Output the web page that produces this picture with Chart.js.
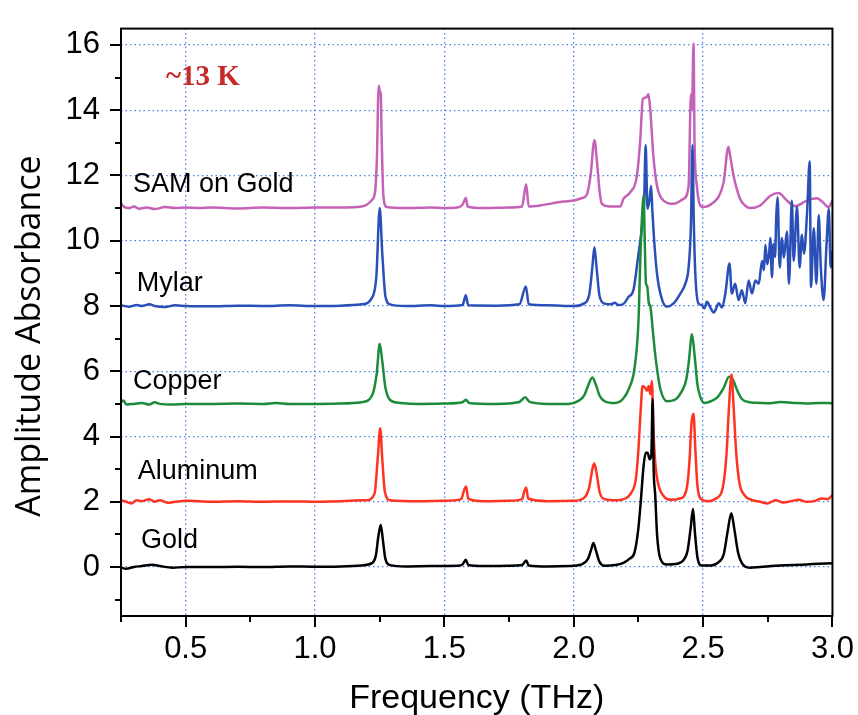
<!DOCTYPE html>
<html>
<head>
<meta charset="utf-8">
<script src="https://cdn.jsdelivr.net/npm/chart.js@4.4.1/dist/chart.umd.min.js"></script>
<style>
  html, body { margin: 0; padding: 0; background: #fff; }
</style>
</head>
<body>
<canvas id="myChart" width="858" height="715"></canvas>
<script>
// spectra, [frequency THz, amplitude absorbance] (already offset as in the figure)
const gold = [[0.25,-0.02],[0.27,-0.05],[0.30,0.0],[0.33,0.03],[0.37,0.07],[0.40,0.03],[0.45,-0.02],[0.50,0.0],[0.60,0.0],[0.70,0.01],[0.80,0.0],[0.90,0.02],[1.00,0.01],[1.10,0.02],[1.18,0.05],[1.22,0.12],[1.235,0.35],[1.245,0.95],[1.254,1.29],[1.262,0.85],[1.272,0.25],[1.29,0.06],[1.35,0.02],[1.45,0.03],[1.55,0.04],[1.57,0.08],[1.583,0.22],[1.592,0.06],[1.65,0.03],[1.75,0.04],[1.80,0.06],[1.816,0.20],[1.826,0.05],[1.90,0.02],[1.98,0.03],[2.03,0.08],[2.055,0.25],[2.068,0.55],[2.076,0.74],[2.086,0.5],[2.10,0.15],[2.12,0.04],[2.16,0.06],[2.19,0.12],[2.215,0.25],[2.235,0.45],[2.25,1.2],[2.26,2.1],[2.27,3.1],[2.278,3.5],[2.285,3.5],[2.294,3.3],[2.30,3.45],[2.305,5.15],[2.309,3.0],[2.315,2.2],[2.322,1.0],[2.335,0.25],[2.36,0.08],[2.40,0.1],[2.425,0.22],[2.44,0.5],[2.452,1.2],[2.461,1.78],[2.468,1.1],[2.478,0.3],[2.495,0.05],[2.53,0.05],[2.56,0.15],[2.58,0.4],[2.595,1.1],[2.609,1.65],[2.62,1.2],[2.635,0.45],[2.65,0.12],[2.68,-0.02],[2.72,0.0],[2.78,0.04],[2.85,0.06],[2.90,0.08],[2.95,0.1],[3.0,0.12]];

const aluminum = [[0.25,2.05],[0.27,2.0],[0.29,1.95],[0.31,2.05],[0.33,2.02],[0.36,2.08],[0.38,2.0],[0.40,2.05],[0.43,1.97],[0.46,2.0],[0.5,2.03],[0.6,2.0],[0.7,2.02],[0.8,2.0],[0.9,2.01],[1.0,2.0],[1.1,2.02],[1.2,2.05],[1.23,2.25],[1.243,3.4],[1.252,4.25],[1.26,3.3],[1.27,2.3],[1.29,2.05],[1.4,2.02],[1.5,2.03],[1.565,2.08],[1.576,2.35],[1.584,2.47],[1.592,2.1],[1.65,2.02],[1.75,2.03],[1.80,2.08],[1.81,2.35],[1.816,2.44],[1.824,2.1],[1.9,2.02],[2.0,2.03],[2.04,2.12],[2.06,2.45],[2.072,3.0],[2.079,3.17],[2.088,2.9],[2.10,2.3],[2.12,2.08],[2.17,2.05],[2.2,2.1],[2.22,2.25],[2.24,2.7],[2.25,3.6],[2.258,4.7],[2.266,5.55],[2.275,5.5],[2.283,5.4],[2.29,5.55],[2.296,5.3],[2.302,5.7],[2.308,4.2],[2.315,3.2],[2.325,2.6],[2.345,2.2],[2.38,2.06],[2.41,2.1],[2.435,2.35],[2.447,3.2],[2.455,4.4],[2.463,4.7],[2.47,3.6],[2.478,2.5],[2.49,2.1],[2.52,2.02],[2.55,2.1],[2.575,2.4],[2.59,3.4],[2.6,4.9],[2.61,5.9],[2.618,4.9],[2.628,3.5],[2.64,2.6],[2.66,2.2],[2.69,2.05],[2.72,2.0],[2.75,1.95],[2.78,2.05],[2.81,1.98],[2.84,2.02],[2.87,2.06],[2.9,2.0],[2.93,2.02],[2.96,2.1],[2.98,2.08],[3.0,2.2]];

const copper = [[0.25,5.05],[0.26,5.1],[0.27,4.98],[0.30,5.0],[0.33,5.03],[0.36,4.98],[0.38,5.05],[0.40,5.0],[0.45,4.98],[0.5,5.0],[0.6,5.0],[0.7,5.01],[0.8,5.0],[0.85,5.03],[0.9,5.0],[1.0,5.0],[1.1,5.01],[1.18,5.05],[1.22,5.25],[1.238,5.9],[1.25,6.84],[1.26,6.3],[1.272,5.5],[1.29,5.12],[1.33,5.03],[1.4,5.0],[1.5,5.01],[1.57,5.05],[1.583,5.13],[1.595,5.03],[1.7,5.0],[1.79,5.06],[1.812,5.2],[1.83,5.06],[1.9,5.0],[1.98,5.0],[2.02,5.1],[2.04,5.25],[2.055,5.55],[2.072,5.81],[2.085,5.6],[2.1,5.25],[2.12,5.08],[2.16,5.03],[2.19,5.15],[2.215,5.5],[2.235,6.1],[2.25,7.5],[2.258,9.6],[2.265,10.9],[2.27,11.4],[2.275,9.8],[2.279,8.7],[2.284,8.6],[2.29,8.1],[2.296,8.0],[2.305,7.3],[2.315,6.5],[2.325,5.9],[2.335,5.45],[2.36,5.08],[2.39,5.12],[2.415,5.35],[2.435,5.75],[2.445,6.3],[2.457,7.13],[2.467,6.5],[2.478,5.6],[2.49,5.2],[2.505,5.03],[2.53,5.08],[2.555,5.2],[2.58,5.5],[2.6,5.83],[2.615,5.75],[2.63,5.45],[2.65,5.15],[2.68,5.05],[2.72,5.03],[2.76,5.02],[2.8,5.06],[2.85,5.03],[2.9,5.01],[2.95,5.03],[3.0,5.02]];

const mylar = [[0.25,8.02],[0.28,7.98],[0.31,8.03],[0.33,8.0],[0.36,8.05],[0.38,8.0],[0.42,7.97],[0.46,8.02],[0.5,8.0],[0.6,7.99],[0.7,8.01],[0.8,8.0],[0.9,8.02],[1.0,8.0],[1.1,8.01],[1.18,8.05],[1.22,8.25],[1.237,8.9],[1.25,11.0],[1.26,9.6],[1.272,8.3],[1.29,8.05],[1.35,8.0],[1.45,8.02],[1.5,8.0],[1.57,8.03],[1.583,8.33],[1.592,8.02],[1.7,8.01],[1.79,8.05],[1.815,8.6],[1.826,8.05],[1.9,8.02],[2.0,8.0],[2.04,8.08],[2.06,8.35],[2.072,9.2],[2.08,9.8],[2.088,9.2],[2.1,8.3],[2.12,8.07],[2.14,8.05],[2.16,8.1],[2.17,8.03],[2.19,8.05],[2.212,8.28],[2.231,8.5],[2.25,9.58],[2.263,10.38],[2.272,11.2],[2.278,12.93],[2.285,10.98],[2.292,11.2],[2.299,11.68],[2.304,10.9],[2.31,10.1],[2.322,8.98],[2.341,8.2],[2.36,7.98],[2.386,8.08],[2.412,8.38],[2.431,8.68],[2.444,9.18],[2.453,10.48],[2.459,12.93],[2.464,10.6],[2.47,8.98],[2.482,8.08],[2.495,8.03],[2.505,7.93],[2.515,8.13],[2.528,7.95],[2.541,7.8],[2.561,8.08],[2.573,7.95],[2.586,8.38],[2.602,9.3],[2.611,8.38],[2.624,8.68],[2.637,8.18],[2.65,8.48],[2.663,8.08],[2.676,8.78],[2.689,8.38],[2.702,8.78],[2.715,8.68],[2.728,9.38],[2.735,9.1],[2.741,9.88],[2.748,9.28],[2.755,9.6],[2.76,10.08],[2.766,8.88],[2.772,9.9],[2.778,9.5],[2.783,10.78],[2.788,11.33],[2.796,9.18],[2.805,10.08],[2.812,9.48],[2.824,10.28],[2.832,8.68],[2.843,11.23],[2.85,9.38],[2.863,11.03],[2.873,9.18],[2.882,10.18],[2.89,9.6],[2.902,10.88],[2.912,12.43],[2.917,8.58],[2.928,10.38],[2.938,8.68],[2.947,10.78],[2.955,9.18],[2.966,8.18],[2.977,9.88],[2.986,10.98],[2.993,9.18],[3.0,9.68]];

const samOnGold = [[0.25,11.15],[0.26,11.05],[0.28,11.0],[0.30,11.05],[0.32,10.98],[0.35,11.02],[0.38,10.97],[0.42,11.03],[0.46,11.0],[0.5,11.02],[0.55,11.0],[0.6,11.02],[0.7,10.99],[0.8,11.02],[0.9,11.0],[1.0,11.02],[1.1,11.02],[1.18,11.05],[1.22,11.25],[1.232,11.5],[1.239,12.5],[1.246,14.75],[1.25,14.6],[1.254,14.5],[1.258,12.98],[1.264,11.4],[1.277,11.03],[1.35,11.0],[1.45,11.02],[1.5,11.0],[1.55,11.02],[1.57,11.1],[1.583,11.31],[1.59,11.05],[1.65,11.0],[1.75,11.02],[1.80,11.05],[1.816,11.73],[1.826,11.05],[1.87,11.08],[1.92,11.15],[1.96,11.2],[2.0,11.23],[2.03,11.3],[2.05,11.4],[2.065,12.0],[2.08,13.08],[2.09,12.4],[2.1,11.5],[2.109,11.13],[2.14,11.05],[2.18,11.05],[2.192,11.28],[2.218,11.48],[2.244,11.98],[2.257,13.08],[2.267,14.34],[2.28,14.39],[2.289,14.49],[2.296,13.99],[2.308,12.58],[2.322,11.68],[2.347,11.23],[2.386,11.13],[2.424,11.28],[2.444,11.68],[2.453,14.49],[2.457,14.0],[2.463,16.04],[2.467,13.0],[2.476,11.68],[2.489,11.08],[2.502,11.03],[2.541,11.18],[2.56,11.35],[2.579,11.78],[2.598,12.88],[2.605,12.58],[2.618,11.98],[2.643,11.28],[2.662,11.08],[2.682,11.0],[2.721,11.08],[2.76,11.38],[2.792,11.46],[2.824,11.23],[2.856,11.06],[2.901,11.23],[2.94,11.3],[2.96,11.2],[2.985,11.03],[3.0,11.23]];

const seriesNames = ['Gold', 'Aluminum', 'Copper', 'Mylar', 'SAM on Gold'];
const seriesData = [gold, aluminum, copper, mylar, samOnGold];
const seriesColors = ['#000000', '#ff3322', '#1d8c3a', '#2a50b8', '#c462b8'];

// where the series names sit, in data units
const labelSpots = [[0.327, 0.59], [0.315, 2.70], [0.296, 5.46], [0.311, 8.46], [0.296, 11.49]];

const xTicks = [0.25, 0.5, 0.75, 1.0, 1.25, 1.5, 1.75, 2.0, 2.25, 2.5, 2.75, 3.0];
const xLabeled = [0.5, 1.0, 1.5, 2.0, 2.5, 3.0];
const yTicks = [-1, 0, 1, 2, 3, 4, 5, 6, 7, 8, 9, 10, 11, 12, 13, 14, 15, 16];
const yLabeled = [0, 2, 4, 6, 8, 10, 12, 14, 16];

const datasets = seriesData.map((d, i) => ({
    label: seriesNames[i],
    data: d.map(p => ({ x: p[0], y: p[1] })),
    borderColor: seriesColors[i],
    borderWidth: 2.5,
    pointRadius: 0,
    cubicInterpolationMode: 'monotone',
    fill: false
}));

const isLabeledX = v => xLabeled.some(t => Math.abs(t - v) < 1e-6);
const isLabeledY = v => yLabeled.includes(v);
const gridBlue = 'rgba(55,115,225,0.9)';

const decor = {
    id: 'decor',
    afterDraw(chart) {
        const ctx = chart.ctx;
        const a = chart.chartArea;
        const xs = chart.scales.x, ys = chart.scales.y;
        ctx.save();
        // frame
        ctx.strokeStyle = '#000';
        ctx.lineWidth = 2;
        ctx.strokeRect(a.left, a.top, a.right - a.left, a.bottom - a.top);
        // tick marks, major and minor
        ctx.beginPath();
        xTicks.forEach(v => {
            const px = Math.round(xs.getPixelForValue(v));
            const len = isLabeledX(v) ? 11 : 6;
            ctx.moveTo(px, a.bottom);
            ctx.lineTo(px, a.bottom + len);
        });
        yTicks.forEach(v => {
            const py = Math.round(ys.getPixelForValue(v));
            const len = isLabeledY(v) ? 11 : 6;
            ctx.moveTo(a.left, py);
            ctx.lineTo(a.left - len, py);
        });
        ctx.stroke();

        // axis titles
        ctx.fillStyle = '#000';
        ctx.font = '34px "Liberation Sans", Arial, sans-serif';
        ctx.textAlign = 'center';
        ctx.textBaseline = 'alphabetic';
        ctx.fillText('Frequency (THz)', (a.left + a.right) / 2, 708);

        ctx.save();
        ctx.translate(30, 336);
        ctx.rotate(-Math.PI / 2);
        ctx.font = '34px "Open Sans", sans-serif';
        ctx.textBaseline = 'middle';
        ctx.fillText('Amplitude Absorbance', 0, 0);
        ctx.restore();

        // series names
        ctx.font = '27px "Liberation Sans", Arial, sans-serif';
        ctx.textAlign = 'left';
        ctx.textBaseline = 'alphabetic';
        labelSpots.forEach((s, i) => {
            ctx.fillText(seriesNames[i], xs.getPixelForValue(s[0]), ys.getPixelForValue(s[1]));
        });

        // temperature note
        ctx.fillStyle = '#c62a26';
        ctx.font = 'bold 29px "Liberation Serif", "Times New Roman", serif';
        ctx.fillText('~13 K', xs.getPixelForValue(0.424), ys.getPixelForValue(14.77));
        ctx.restore();
    }
};

new Chart(document.getElementById('myChart'), {
    type: 'line',
    data: { datasets: datasets },
    options: {
        responsive: false,
        animation: false,
        layout: { padding: { top: 16, right: 25, left: 0, bottom: 0 } },
        plugins: {
            legend: { display: false },
            tooltip: { enabled: false },
            title: { display: false }
        },
        scales: {
            x: {
                type: 'linear',
                min: 0.25,
                max: 3.0,
                afterBuildTicks: s => { s.ticks = xTicks.map(v => ({ value: v })); },
                afterFit: s => { s.height = 99; },
                border: { display: false, dash: [1.5, 3] },
                grid: {
                    color: c => (c.tick && isLabeledX(c.tick.value) && c.tick.value < 2.9) ? gridBlue : 'rgba(0,0,0,0)',
                    lineWidth: 1.3,
                    tickLength: 11,
                    tickColor: 'rgba(0,0,0,0)'
                },
                ticks: {
                    padding: 4,
                    color: '#000',
                    font: { family: '"Liberation Sans", Arial, sans-serif', size: 31 },
                    maxRotation: 0,
                    autoSkip: false,
                    callback: v => isLabeledX(v) ? v.toFixed(1) : ''
                }
            },
            y: {
                type: 'linear',
                min: -1.5,
                max: 16.5,
                afterBuildTicks: s => { s.ticks = yTicks.map(v => ({ value: v })); },
                afterFit: s => { s.width = 121; },
                border: { display: false, dash: [1.5, 3] },
                grid: {
                    color: c => (c.tick && isLabeledY(c.tick.value)) ? gridBlue : 'rgba(0,0,0,0)',
                    lineWidth: 1.3,
                    tickLength: 11,
                    tickColor: 'rgba(0,0,0,0)'
                },
                ticks: {
                    padding: 10,
                    color: '#000',
                    font: { family: '"Liberation Sans", Arial, sans-serif', size: 31 },
                    autoSkip: false,
                    callback: v => isLabeledY(v) ? String(v) : ''
                }
            }
        }
    },
    plugins: [decor]
});
</script>
</body>
</html>
